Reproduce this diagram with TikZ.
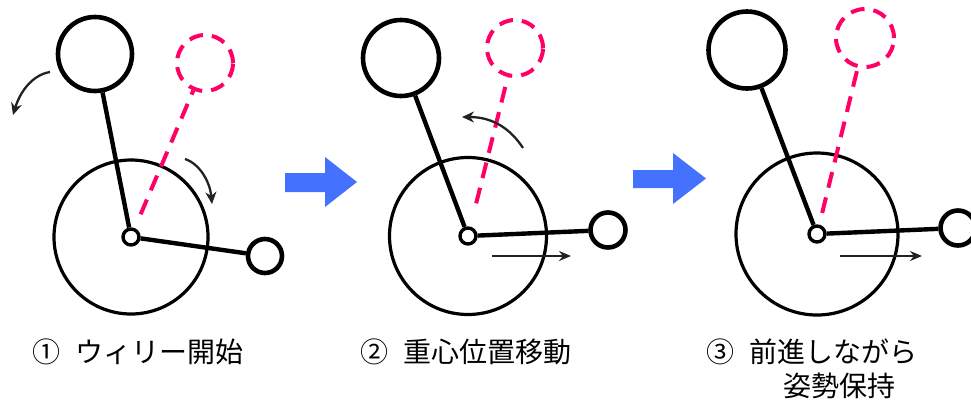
\documentclass[tikz,border=0pt]{standalone}
\usepackage{fontspec}
\newfontfamily\jp{Noto Sans CJK JP}
\usetikzlibrary{arrows.meta}
\definecolor{pinkc}{RGB}{255,0,102}
\definecolor{bluec}{RGB}{68,114,255}
\definecolor{arrc}{RGB}{34,34,34}
\begin{document}
\begin{tikzpicture}[x=1pt,y=-1pt,
  wheel/.style={circle,draw,line width=3.2pt,inner sep=0pt,minimum size=#1},
  hubc/.style={circle,draw,fill=white,line width=3.4pt,inner sep=0pt,minimum size=16pt},
  headc/.style={circle,draw,line width=4.6pt,inner sep=0pt,minimum size=#1},
  ghostc/.style={circle,draw=pinkc,line width=4pt,dash pattern=on 14pt off 9pt,inner sep=0pt,minimum size=#1},
  rod/.style={line width=4.4pt},
  ghostrod/.style={draw=pinkc,line width=4pt,dash pattern=on 16pt off 10pt},
  motion/.style={draw=arrc,line width=2.3pt,-{Stealth[length=12pt,width=11pt]}},
  blockarrow/.style={fill=bluec},
  lbl/.style={font=\jp\fontsize{28}{34}\selectfont,inner sep=0pt}
]
\useasboundingbox (0,0) rectangle (971,400);

% ---------- panel 1 ----------
\node[wheel=154pt] (wheel1) at (131,237) {};
\node[hubc] (hub1) at (131,237) {};
\node[headc=74pt] (head1) at (95,54) {};
\node[headc=34pt] (rear1) at (265,256) {};
\node[ghostc=56pt] (ghost1) at (205,63) {};
\draw[rod] (hub1) -- (head1);
\draw[rod] (hub1) -- (rear1);
\draw[ghostrod,shorten <=15pt] (hub1) -- (ghost1);
\coordinate (a1s) at (50,72);
\coordinate (a1e) at (13,115);
\draw[motion] (a1s) .. controls (32,75) and (20,92) .. (a1e);
\coordinate (a2s) at (185,159);
\coordinate (a2e) at (212,204);
\draw[motion] (a2s) .. controls (200,164) and (210,182) .. (a2e);

% ---------- arrow 1 ----------
\fill[blockarrow] (285,173) -- (325,173) -- (325,157) -- (357,182) -- (325,207) -- (325,192) -- (285,192) -- cycle;

% ---------- panel 2 ----------
\node[wheel=157pt] (wheel2) at (468,236) {};
\node[hubc] (hub2) at (468,236) {};
\node[headc=76pt] (head2) at (401,58) {};
\node[headc=35pt] (rear2) at (608,230) {};
\node[ghostc=56pt] (ghost2) at (515,48) {};
\draw[rod] (hub2) -- (head2);
\draw[rod] (hub2) -- (rear2);
\draw[ghostrod,shorten <=24pt] (hub2) -- (ghost2);
\coordinate (a3s) at (523,148);
\coordinate (a3e) at (462,117);
\draw[motion] (a3s) .. controls (510,128) and (492,117) .. (a3e);
\coordinate (a4s) at (492,256);
\coordinate (a4e) at (571,256);
\draw[motion,-{Stealth[length=12pt,width=10pt]}] (a4s) -- (a4e);

% ---------- arrow 2 ----------
\fill[blockarrow] (633,170) -- (673,170) -- (673,153) -- (706,178.5) -- (673,204) -- (673,188) -- (633,188) -- cycle;

% ---------- panel 3 ----------
\node[wheel=162pt] (wheel3) at (817,234) {};
\node[hubc] (hub3) at (817,234) {};
\node[headc=77pt] (head3) at (747,50) {};
\node[headc=35pt] (rear3) at (958,228) {};
\node[ghostc=58pt] (ghost3) at (865,38) {};
\draw[rod] (hub3) -- (head3);
\draw[rod] (hub3) -- (rear3);
\draw[ghostrod,shorten <=12pt] (hub3) -- (ghost3);
\coordinate (a5s) at (840,256);
\coordinate (a5e) at (922,256);
\draw[motion,-{Stealth[length=12pt,width=10pt]}] (a5s) -- (a5e);

% ---------- labels ----------
\node[lbl,anchor=west] (t1) at (32,352) {①\hspace{0.55em}ウィリー開始};
\node[lbl,anchor=west] (t2) at (360,352) {②\hspace{0.55em}重心位置移動};
\node[lbl,anchor=west] (t3) at (706,352) {③\hspace{0.55em}前進しながら};
\node[lbl,anchor=west] (t4) at (783,386) {姿勢保持};
\end{tikzpicture}
\end{document}
